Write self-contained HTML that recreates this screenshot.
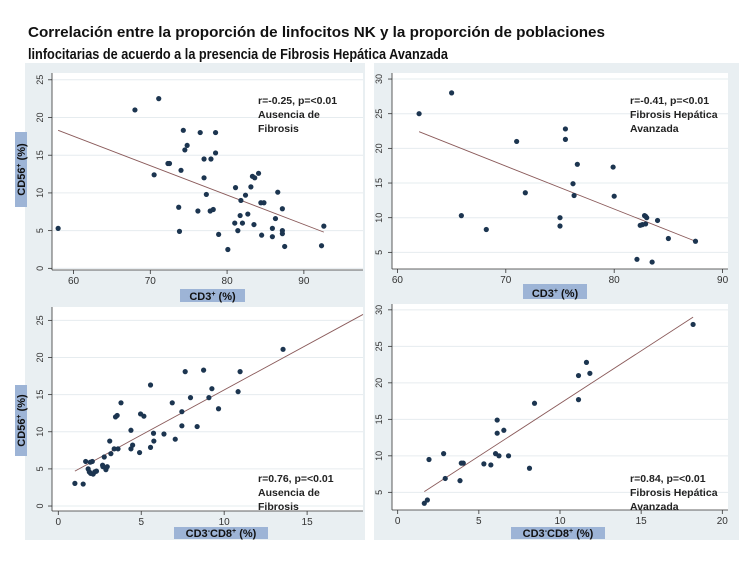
<!DOCTYPE html>
<html><head><meta charset="utf-8"><style>
html,body{margin:0;padding:0;background:#fff;}
svg{display:block;font-family:"Liberation Sans",sans-serif;}
</style></head><body>
<svg id="svg" width="750" height="562" viewBox="0 0 750 562">
<text x="28" y="37" font-size="15" font-weight="bold" fill="#111" textLength="577" lengthAdjust="spacingAndGlyphs">Correlación entre la proporción de linfocitos NK y la proporción de poblaciones</text>
<text x="28" y="59" font-size="15" font-weight="bold" fill="#111" textLength="420" lengthAdjust="spacingAndGlyphs">linfocitarias de acuerdo a la presencia de Fibrosis Hepática Avanzada</text>
<rect x="25" y="63" width="340" height="477" fill="#e9eff2"/>
<rect x="374" y="63" width="365" height="477" fill="#e9eff2"/>
<g id="charts"></g>
</svg>
<script>
// Panel 1: CD3+ vs CD56+ (no fibrosis)
const p1x=[58,68,71.1,70.5,72.3,72.5,73.7,73.8,74,74.3,74.5,74.8,76.2,76.5,77,77,77.3,77.9,77.8,78.2,78.5,78.5,78.9,80.1,81,81.1,81.4,81.7,81.8,82,82.4,82.7,83.1,83.3,83.5,83.6,84.1,84.4,84.5,84.8,85.9,85.9,86.3,86.6,87.2,87.2,87.2,87.5,92.3,92.6];
const p1y=[5.3,21,22.5,12.4,13.9,13.9,8.1,4.9,13,18.3,15.7,16.3,7.6,18,14.5,12,9.8,14.5,7.6,7.8,18,15.3,4.5,2.5,6,10.7,5,7,9,6,9.7,7.2,10.8,12.2,5.8,12,12.6,8.7,4.4,8.7,5.3,4.2,6.6,10.1,7.9,4.6,5,2.9,3,5.6];
const p1fitX=[58,92.6], p1fitY=[18.3,4.8];
const p1xTicks=[60,70,80,90], p1yTicks=[0,5,10,15,20,25];
// Panel 2: CD3+ vs CD56+ (advanced fibrosis)
const p2x=[62,65,65.9,68.2,71,71.8,75,75,75.5,75.5,76.2,76.3,76.6,79.9,80,82.1,82.4,82.6,82.8,82.9,82.9,83,83.5,84,85,87.5];
const p2y=[25,28,10.3,8.3,21,13.6,10,8.8,22.8,21.3,14.9,13.2,17.7,17.3,13.1,4,8.9,9,10.3,10.2,9.1,10,3.6,9.6,7,6.6];
const p2fitX=[62,87.5], p2fitY=[22.4,6.6];
const p2xTicks=[60,70,80,90], p2yTicks=[5,10,15,20,25,30];
// Panel 3: CD3-CD8+ vs CD56+ (no fibrosis)
const p3x=[1,1.5,1.65,1.8,1.87,1.93,1.95,2.05,2.1,2.2,2.3,2.67,2.69,2.77,2.87,2.95,3.1,3.17,3.37,3.45,3.55,3.6,3.78,4.38,4.38,4.48,4.9,4.96,5.16,5.56,5.56,5.74,5.76,6.37,6.87,7.05,7.45,7.45,7.65,7.97,8.37,8.76,9.08,9.26,9.66,10.84,10.96,13.55];
const p3y=[3.05,2.96,6,5,4.6,5.9,4.4,6,4.3,4.6,4.7,5.5,5.3,6.6,4.9,5.3,8.75,7.05,7.7,12,12.2,7.7,13.9,10.2,7.7,8.2,7.2,12.4,12.1,16.3,7.9,9.8,8.75,9.7,13.9,9,12.7,10.8,18.1,14.6,10.7,18.3,14.6,15.8,13.1,15.4,18.1,21.1];
const p3fitX=[1,18.37], p3fitY=[4.7,25.8];
const p3xTicks=[0,5,10,15], p3yTicks=[0,5,10,15,20,25];
// Panel 4: CD3-CD8+ vs CD56+ (advanced fibrosis)
const p4x=[1.64,1.83,1.93,2.83,2.93,3.84,3.92,4.04,5.31,5.74,6.03,6.13,6.13,6.24,6.54,6.83,8.12,8.43,11.14,11.14,11.63,11.84,18.2];
const p4y=[3.5,3.95,9.5,10.3,6.9,6.6,9,9,8.9,8.75,10.3,14.9,13.1,10,13.5,10,8.3,17.2,21,17.7,22.8,21.3,28];
const p4fitX=[1.64,18.2], p4fitY=[5.1,29];
const p4xTicks=[0,5,10,15,20], p4yTicks=[5,10,15,20,25,30];

const NS="http://www.w3.org/2000/svg";
const root=document.getElementById('charts');
function mk(tag,attrs,parent){const e=document.createElementNS(NS,tag);for(const k in attrs)e.setAttribute(k,attrs[k]);(parent||root).appendChild(e);return e;}

function panel(id,box,dom,xs,ys,fx,fy,xt,yt,ann,ytx){
  const g=mk('g',{});
  
  
  const sx=v=>box.x0+(v-dom.x0)/(dom.x1-dom.x0)*(box.x1-box.x0);
  const sy=v=>box.y1-(v-dom.y0)/(dom.y1-dom.y0)*(box.y1-box.y0);
  const pr=mk('rect',{x:box.x0,y:box.y0,width:box.x1-box.x0,height:box.y1-box.y0,fill:'#fff'},g);
  
  
  yt.forEach(t=>{
    const gl=mk('line',{x1:box.x0,x2:box.x1,y1:sy(t),y2:sy(t),stroke:'#e6ecef','stroke-width':1},g);
    
    
    mk('line',{x1:box.x0-4,x2:box.x0,y1:sy(t),y2:sy(t),stroke:'#333','stroke-width':0.8},g);
    const tx=mk('text',{x:0,y:0,transform:`translate(${ytx},${sy(t)}) rotate(-90)`,'font-size':9,'text-anchor':'middle',fill:'#333'},g);
    tx.textContent=t;
    
    
  });
  xt.forEach(t=>{
    mk('line',{x1:sx(t),x2:sx(t),y1:box.y1,y2:box.y1+4,stroke:'#333','stroke-width':0.8},g);
    const tx=mk('text',{x:sx(t),y:box.y1+14,'font-size':10,'text-anchor':'middle',fill:'#333'},g);
    tx.textContent=t;
    
    
  });
  mk('line',{x1:box.x0,x2:box.x0,y1:box.y0,y2:box.y1,stroke:'#333','stroke-width':0.8},g);
  mk('line',{x1:box.x0,x2:box.x1,y1:box.y1,y2:box.y1,stroke:'#333','stroke-width':0.8},g);
  const fl=mk('line',{x1:sx(fx[0]),y1:sy(fy[0]),x2:sx(fx[1]),y2:sy(fy[1]),stroke:'#8a5a5a','stroke-width':0.9},g);
  
  
  xs.forEach((v,i)=>{
    const c=mk('circle',{cx:sx(v),cy:sy(ys[i]),r:2.6,fill:'#1c3550'},g);
    
    
  });
  ann.lines.forEach((l,i)=>{
    const tx=mk('text',{x:ann.x,y:ann.y+i*14,'font-size':10.5,'font-weight':'bold',fill:'#222'},g);
    tx.textContent=l;
    
    
  });
}

panel('chart-cd3-no-fibrosis',{x0:52,x1:363,y0:73,y1:270},{x0:57.2,x1:97.7,y0:-0.22,y1:25.9},p1x,p1y,p1fitX,p1fitY,p1xTicks,p1yTicks,{x:258,y:104,lines:['r=-0.25,  p=<0.01','Ausencia de','Fibrosis']},43);
panel('chart-cd3-advanced-fibrosis',{x0:392,x1:728,y0:73,y1:269},{x0:59.5,x1:90.5,y0:2.6,y1:30.87},p2x,p2y,p2fitX,p2fitY,p2xTicks,p2yTicks,{x:630,y:104,lines:['r=-0.41,  p=<0.01','Fibrosis Hepática','Avanzada']},382);
panel('chart-cd8-no-fibrosis',{x0:52,x1:363,y0:307,y1:511},{x0:-0.38,x1:18.37,y0:-0.67,y1:26.8},p3x,p3y,p3fitX,p3fitY,p3xTicks,p3yTicks,{x:258,y:482,lines:['r=0.76,  p=<0.01','Ausencia de','Fibrosis']},43);
panel('chart-cd8-advanced-fibrosis',{x0:392,x1:728,y0:304,y1:510},{x0:-0.35,x1:20.35,y0:2.58,y1:30.8},p4x,p4y,p4fitX,p4fitY,p4xTicks,p4yTicks,{x:630,y:482,lines:['r=0.84,  p=<0.01','Fibrosis Hepática','Avanzada']},382);

function label(name,x,y,w,h,txt,rot){
  const g=mk('g',{});
  
  
  mk('rect',{x:x,y:y,width:w,height:h,fill:'#9db4d6'},g);
  let t;
  if(rot){t=mk('text',{x:0,y:0,transform:`translate(${x+w/2+4},${y+h/2}) rotate(-90)`,'font-size':11,'font-weight':'bold','text-anchor':'middle',fill:'#111'},g);}
  else{t=mk('text',{x:x+w/2,y:y+h-2,'font-size':11,'font-weight':'bold','text-anchor':'middle',fill:'#111'},g);}
  t.innerHTML=txt;
}
label('x-axis-title-top-left',180,289,65,13,'CD3<tspan font-size="7" dy="-4">+</tspan><tspan dy="4"> (%)</tspan>');
label('x-axis-title-top-right',523,284,64,15,'CD3<tspan font-size="7" dy="-4">+</tspan><tspan dy="4"> (%)</tspan>');
label('x-axis-title-bottom-left',174,527,94,12,'CD3<tspan font-size="7" dy="-4">-</tspan><tspan dy="4">CD8</tspan><tspan font-size="7" dy="-4">+</tspan><tspan dy="4"> (%)</tspan>');
label('x-axis-title-bottom-right',511,527,94,12,'CD3<tspan font-size="7" dy="-4">-</tspan><tspan dy="4">CD8</tspan><tspan font-size="7" dy="-4">+</tspan><tspan dy="4"> (%)</tspan>');
label('y-axis-title-top-left',15,132,12,75,'CD56<tspan font-size="7" dy="-4">+</tspan><tspan dy="4"> (%)</tspan>',true);
label('y-axis-title-bottom-left',15,385,12,71,'CD56<tspan font-size="7" dy="-4">+</tspan><tspan dy="4"> (%)</tspan>',true);
</script>
</body></html>
